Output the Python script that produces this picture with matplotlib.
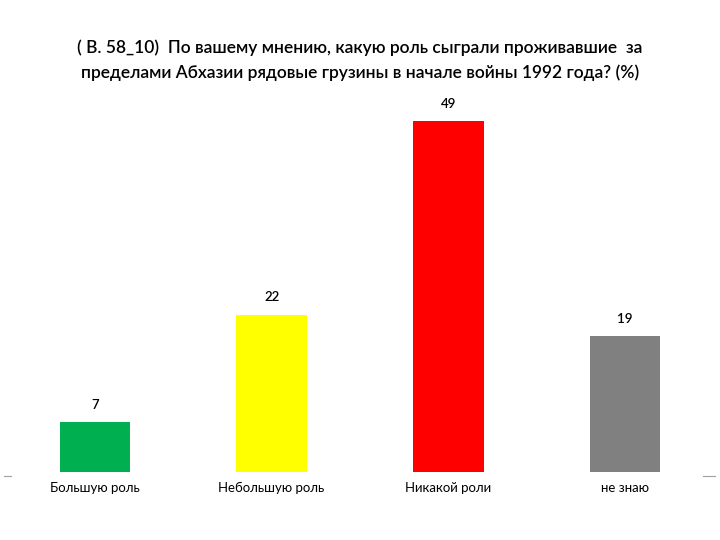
import matplotlib
matplotlib.use('Agg')
import matplotlib.pyplot as plt

categories = ['Большую роль', 'Небольшую роль', 'Никакой роли', 'не знаю']
values = [7, 22, 49, 19]
colors = ['#00b050', '#ffff00', '#ff0000', '#808080']
title = ('( В. 58_10)  По вашему мнению, какую роль сыграли проживавшие  за\n'
         'пределами Абхазии рядовые грузины в начале войны 1992 года? (%)')

plt.rcParams['font.family'] = ['Lato', 'DejaVu Sans']

fig = plt.figure(figsize=(7.2, 5.4), dpi=100)
ax = fig.add_axes([0.009, 0.126, 0.982, 0.689])
xs = range(len(values))
ax.bar(xs, values, width=0.4, color=colors)
for x, v in zip(xs, values):
    ax.annotate(str(v), (x, v), xytext=(0, 8), textcoords='offset points',
                ha='center', va='bottom', fontsize=9.5, fontweight='semibold')
ax.set_xlim(-0.5, len(values) - 0.5)
ax.set_ylim(0, 52)
ax.set_xticks(list(xs))
ax.set_xticklabels(categories, fontsize=9.5)
ax.tick_params(length=0, pad=7)
ax.set_yticks([])
for s in ax.spines.values():
    s.set_visible(False)

# tiny axis stubs at the baseline edges
fig.add_artist(plt.Line2D([0.006, 0.015], [0.119, 0.119], color='#a0a0a0', lw=0.8))
fig.add_artist(plt.Line2D([0.977, 0.993], [0.119, 0.119], color='#a0a0a0', lw=0.8))

fig.text(0.5, 0.888, title, ha='center', va='center', fontsize=12.5,
         fontweight='semibold', linespacing=1.6)

fig.savefig('out.png')
